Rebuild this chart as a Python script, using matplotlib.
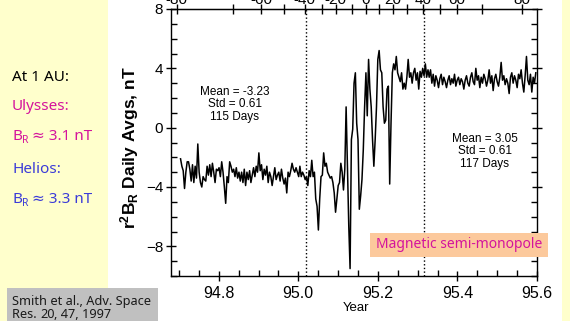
import numpy as np
import matplotlib
matplotlib.use("Agg")
import matplotlib.pyplot as plt
from matplotlib.patches import Rectangle

plt.rcParams['mathtext.fontset'] = 'custom'
plt.rcParams['mathtext.rm'] = 'Liberation Sans'
plt.rcParams['mathtext.bf'] = 'Liberation Sans:bold'

# r^2 B_R daily averages (nT)
br_early = [-2.1, -2.6, -2.9, -4.1, -3.0, -2.3, -2.3, -2.8, -3.6, -2.5, -3.7, -2.6,
            -3.4, -1.1, -3.0, -3.7, -4.0, -3.3, -3.5, -3.6, -2.6, -3.2, -2.5, -3.3,
            -2.4, -3.0, -3.7, -2.8, -2.9, -2.7, -3.3, -2.3, -3.0, -4.0, -5.1, -3.3,
            -3.7, -2.3, -2.6, -3.0, -2.8, -3.3, -2.7, -3.4, -3.0, -3.6, -3.0, -3.7,
            -2.8, -3.9, -3.0, -3.5, -2.9, -3.7, -3.2, -2.7, -3.3, -2.6, -3.0, -1.7,
            -2.9, -2.5, -3.5, -2.8, -3.2, -2.6, -3.7, -3.0, -3.3, -3.9, -3.3, -2.7,
            -3.5, -3.2, -3.0, -3.6, -2.8, -3.4, -3.8, -3.4, -4.4, -3.0, -3.3, -2.9,
            -2.4, -2.8, -3.0, -2.7, -3.0, -3.3]
br_transit = [-2.6, -3.3, -3.0, -3.2, -3.5, -3.3, -3.9, -2.9, -3.3, -2.2, -3.3, -3.0,
              -4.8, -5.3, -6.9, -4.8, -3.3, -3.2, -1.7, -2.6, -2.4, -3.0, -3.2, -3.4,
              -3.3, -3.7, -4.4, -5.7, -4.8, -3.9, -3.7, -2.4, -3.0, -4.2, -2.8, 1.4,
              -2.6, -6.6, -9.5, -0.8, -0.1, 3.0, 3.7, 0.3, -0.8, -5.5, -4.6, -3.5,
              -1.5, 1.4, 3.7, 0.8, 4.6, 2.6, 1.4, -0.8, -2.6, -0.8, 1.4, 4.6,
              5.2, 3.9, 3.7, 1.4, 0.3, 0.5, 2.6, 2.8, -3.8, 0.3, 3.7, 4.3,
              3.9, 4.8, 3.7, 3.4, 3.1, 3.7, 2.6, 3.0, 2.6, 3.4, 4.6, 3.4,
              3.7, 3.0, 3.7, 4.0, 3.2, 3.7, 2.6, 3.8, 3.4, 4.0, 3.5, 4.3,
              3.4, 3.9]
br_late = [3.4, 3.9, 3.0, 3.6, 2.8, 3.5, 3.2, 2.7, 3.3, 3.6, 2.9, 3.4, 3.1, 2.7,
           3.2, 3.5, 2.9, 3.3, 3.0, 3.6, 2.8, 3.2, 3.4, 2.9, 3.3, 3.1, 2.6, 3.2,
           3.5, 3.0, 2.8, 3.4, 3.7, 3.1, 2.9, 4.0, 3.2, 3.5, 2.7, 3.4, 3.0, 3.6,
           3.3, 2.8, 3.2, 3.9, 3.0, 3.5, 2.5, 3.3, 3.6, 3.1, 2.8, 3.4, 4.4, 3.2,
           3.5, 2.9, 3.3, 3.0, 2.3, 3.4, 3.7, 3.0, 3.5, 3.2, 2.7, 3.6, 3.3, 3.9,
           3.0, 2.4, 3.5, 4.8, 3.2, 2.9, 3.6, 2.4, 3.4, 3.0, 3.7]

span_early = (94.704, 95.001)
span_transit = (95.004, 95.326)
span_late = (95.329, 95.597)

# heliographic latitude marks on the top axis (year of crossing)
lat_years = [94.694, 94.836, 94.907, 94.964, 95.016, 95.059, 95.094, 95.135, 95.169,
             95.204, 95.237, 95.272, 95.313, 95.357, 95.399, 95.462, 95.562]
lat_labels = ['-80', '', '-60', '', '-40', '', '-20', '', '0', '', '20', '', '40', '',
              '60', '', '80']
boundaries = [95.019, 95.315]

years = np.concatenate([np.linspace(*span_early, len(br_early)),
                        np.linspace(*span_transit, len(br_transit)),
                        np.linspace(*span_late, len(br_late))])
br = np.array(br_early + br_transit + br_late)

W, H = 570, 321
fig = plt.figure(figsize=(W / 100, H / 100), dpi=100, facecolor='white')
renderer = fig.canvas.get_renderer()

def fx(px):
    return px / W

def fy(py):
    return 1 - py / H

def chain(x, y, parts, **kw):
    # draw text pieces one after another on the same baseline
    for s, extra in parts:
        opts = dict(kw)
        opts.update(extra)
        dy = opts.pop('dy', 0)
        t = fig.text(x, y - dy / H, s, va='baseline', **opts)
        x = t.get_window_extent(renderer).x1 / W
    return x

yellow = '#FFFFCC'
fig.patches.append(Rectangle((0, 0), fx(108), 1, transform=fig.transFigure,
                             facecolor=yellow, edgecolor='none', zorder=0))
fig.patches.append(Rectangle((fx(562), 0), 1 - fx(562), 1, transform=fig.transFigure,
                             facecolor=yellow, edgecolor='none', zorder=0))

ax = fig.add_axes([fx(171), fy(276), fx(537) - fx(171), fy(9) - fy(276)])
ax.plot(years, br, color='black', lw=1.1)
for b in boundaries:
    ax.axvline(b, color='black', ls=':', lw=1.0)

ax.set_xlim(94.68, 95.6)
ax.set_ylim(-10, 8)
ax.set_xticks([94.8, 95.0, 95.2, 95.4, 95.6])
ax.set_xticklabels(['94.8', '95.0', '95.2', '95.4', '95.6'])
ax.set_xticks(np.arange(94.7, 95.6, 0.05), minor=True)
ax.set_yticks([-8, -4, 0, 4, 8])
ax.set_yticks(np.arange(-10, 9, 1), minor=True)
ax.tick_params(which='major', direction='inout', length=7, width=1, right=True,
               labelsize=11.5, pad=4)
ax.tick_params(which='minor', direction='in', length=4, width=1, right=True)
ax.tick_params(axis='y', which='major', labelsize=11, pad=2)
for lab in ax.get_xticklabels() + ax.get_yticklabels():
    lab.set_family('Liberation Sans')
for s in ax.spines.values():
    s.set_linewidth(1.0)

top = ax.secondary_xaxis('top')
top.set_xticks(lat_years)
top.set_xticklabels(lat_labels)
top.tick_params(direction='inout', length=7, width=1, labelsize=11, pad=-2)
for lab in top.get_xticklabels():
    lab.set_family('Liberation Sans')

helv = 'Liberation Sans'
fig.text(fx(235), fy(86), 'Mean = -3.23\nStd = 0.61\n115 Days', ha='center', va='top',
         fontsize=8.5, family=helv, linespacing=1.05)
fig.text(fx(485), fy(133), 'Mean = 3.05\nStd = 0.61\n117 Days', ha='center', va='top',
         fontsize=8.5, family=helv, linespacing=1.05)

fig.text(fx(130), fy(148), r'$\mathbf{r^2B_R}$ Daily Avgs, nT', rotation=90,
         ha='center', va='center', fontsize=12.5, family=helv, fontweight='bold')
fig.text(fx(356), fy(308), 'Year', ha='center', va='center', fontsize=9.5, family=helv)

# semi-monopole label box
fig.patches.append(Rectangle((fx(370), fy(257)), fx(548) - fx(370), fy(233) - fy(257),
                             transform=fig.transFigure, facecolor='#FCC99C',
                             edgecolor='none', zorder=3))
fig.text(fx(459), fy(245), 'Magnetic semi-monopole', ha='center', va='center',
         fontsize=10, family='Noto Sans', color='#D4149C', zorder=4)

magenta = '#D4149C'
blue = '#3B3BD8'
side = ['Noto Sans', 'DejaVu Sans']
fig.text(fx(12), fy(81), 'At 1 AU:', fontsize=11, family=side, color='black', va='baseline')
fig.text(fx(12), fy(110), 'Ulysses:', fontsize=11, family=side, color=magenta, va='baseline')
chain(fx(12), fy(140), [('B', {}), ('R', {'fontsize': 7.5, 'dy': 3}),
                        (' \u2248 3.1 nT', {})], fontsize=11, family=side, color=magenta)
fig.text(fx(12), fy(173), 'Helios:', fontsize=11, family=side, color=blue, va='baseline')
chain(fx(12), fy(203), [('B', {}), ('R', {'fontsize': 7.5, 'dy': 3}),
                        (' \u2248 3.3 nT', {})], fontsize=11, family=side, color=blue)

# citation box
fig.patches.append(Rectangle((fx(7), 0), fx(158) - fx(7), fy(288),
                             transform=fig.transFigure, facecolor='#C0C0C0',
                             edgecolor='none', zorder=3))
cite_col = '#1a1a1a'
fig.text(fx(12), fy(305), 'Smith et al., Adv. Space', fontsize=9.2, family=side,
         color=cite_col, va='baseline', zorder=4)
chain(fx(12), fy(318), [('Res. ', {}), ('20', {'fontweight': 'bold'}),
                        (', 47, 1997', {})], fontsize=9.2, family=side, color=cite_col,
      zorder=4)

fig.savefig('out.png', dpi=100, facecolor='white')
